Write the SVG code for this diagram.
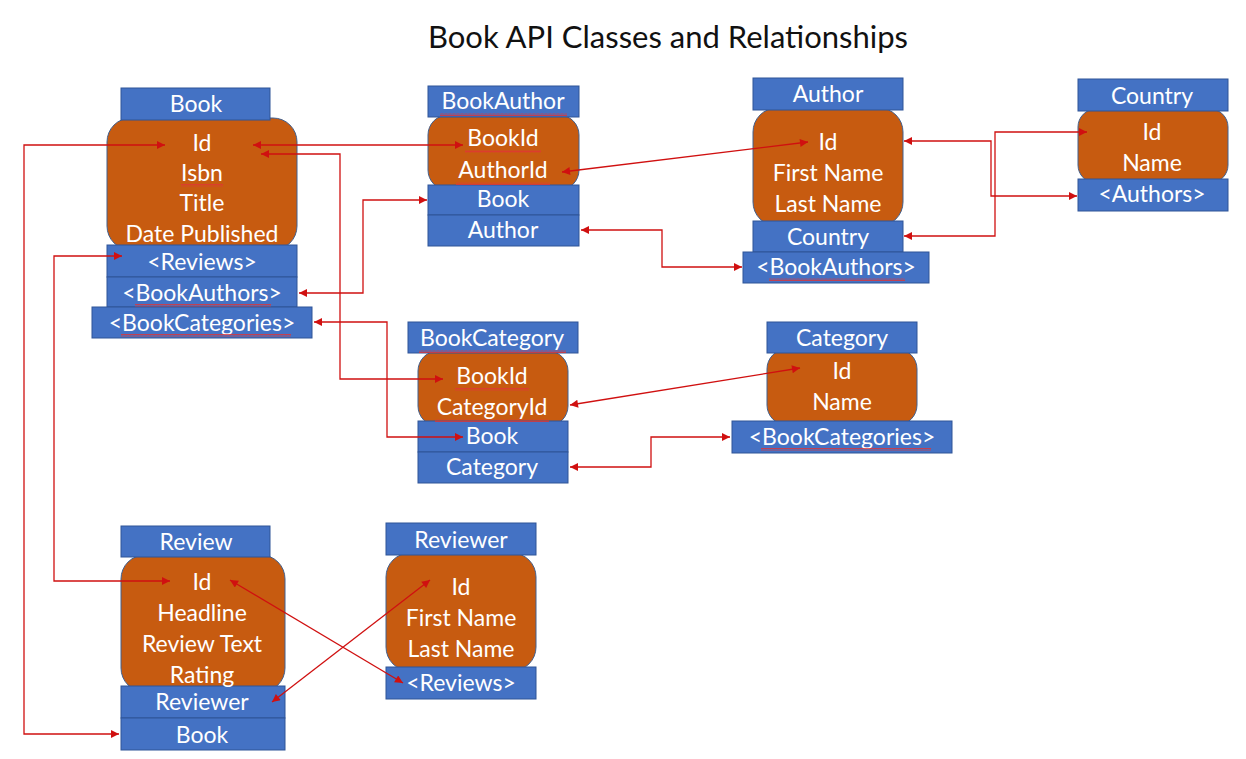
<svg xmlns="http://www.w3.org/2000/svg" width="1246" height="759" viewBox="0 0 1246 759">
<style>
  .hdr { fill: #4472c4; stroke: #2f5597; stroke-width: 1; }
  .row { fill: #4472c4; stroke: #2f5597; stroke-width: 1; }
  .body { fill: #c75b10; stroke: #41608f; stroke-width: 1; }
  text { font-family: Lato, "Liberation Sans", sans-serif; font-size: 23px; fill: #ffffff; text-anchor: middle; }
  .title { font-size: 31px; fill: #111111; }
  .conn { fill: none; stroke: #d01010; stroke-width: 1.3; marker-start: url(#arr); marker-end: url(#arr); }
  .sq { fill: url(#squig); }
</style>
<defs>
  <marker id="arr" viewBox="0 0 10 10" refX="10" refY="5" markerWidth="9" markerHeight="8" markerUnits="userSpaceOnUse" orient="auto-start-reverse">
    <path d="M0,0 L10,5 L0,10 z" fill="#d01010"/>
  </marker>
  <pattern id="squig" width="4" height="3" patternUnits="userSpaceOnUse">
    <path d="M0,2.5 L1,0.5 L2,2.5 L3,0.5 L4,2.5" fill="none" stroke="#e03535" stroke-width="0.8"/>
  </pattern>
</defs>
<rect width="1246" height="759" fill="#ffffff"/>
<text class="title" x="668" y="48">Book API Classes and Relationships</text>

<g id="Book">
  <rect class="body" x="107" y="118" width="190" height="132" rx="24"/>
  <rect class="hdr" x="121" y="88" width="149" height="32"/>
  <rect class="row" x="107" y="245" width="190" height="32"/>
  <rect class="row" x="107" y="277" width="190" height="30"/>
  <rect class="row" x="92" y="307" width="220" height="31"/>
  <text x="196" y="112">Book</text>
  <text x="202" y="151">Id</text>
  <text x="202" y="181">Isbn</text>
  <text x="202" y="211">Title</text>
  <text x="202" y="242">Date Published</text>
  <text x="202" y="270">&lt;Reviews&gt;</text>
  <text x="202" y="301">&lt;BookAuthors&gt;</text>
  <text x="202" y="331">&lt;BookCategories&gt;</text>
  <rect class="sq" x="181" y="184" width="42" height="3"/>
  <rect class="sq" x="135" y="304" width="136" height="3"/>
  <rect class="sq" x="121" y="334" width="170" height="3"/>
</g>

<g id="BookAuthor">
  <rect class="body" x="428" y="115" width="151" height="75" rx="20"/>
  <rect class="hdr" x="428" y="86" width="151" height="31"/>
  <rect class="row" x="428" y="185" width="151" height="30"/>
  <rect class="row" x="428" y="215" width="151" height="31"/>
  <text x="503" y="109">BookAuthor</text>
  <text x="503" y="146">BookId</text>
  <text x="503" y="178">AuthorId</text>
  <text x="503" y="207">Book</text>
  <text x="503" y="238">Author</text>
  <rect class="sq" x="440" y="113" width="127" height="3"/>
  <rect class="sq" x="465" y="150" width="76" height="3"/>
  <rect class="sq" x="456" y="182" width="94" height="3"/>
</g>

<g id="Author">
  <rect class="body" x="753" y="108" width="150" height="118" rx="24"/>
  <rect class="hdr" x="753" y="78" width="150" height="32"/>
  <rect class="row" x="753" y="221" width="150" height="31"/>
  <rect class="row" x="743" y="252" width="186" height="31"/>
  <text x="828" y="102">Author</text>
  <text x="828" y="150">Id</text>
  <text x="828" y="181">First Name</text>
  <text x="828" y="212">Last Name</text>
  <text x="828" y="245">Country</text>
  <text x="836" y="275">&lt;BookAuthors&gt;</text>
  <rect class="sq" x="769" y="278" width="136" height="3"/>
</g>

<g id="Country">
  <rect class="body" x="1078" y="109" width="150" height="74" rx="18"/>
  <rect class="hdr" x="1078" y="79" width="150" height="32"/>
  <rect class="row" x="1078" y="179" width="150" height="32"/>
  <text x="1152" y="104">Country</text>
  <text x="1152" y="140">Id</text>
  <text x="1152" y="171">Name</text>
  <text x="1152" y="202">&lt;Authors&gt;</text>
</g>

<g id="BookCategory">
  <rect class="body" x="418" y="351" width="150" height="75" rx="20"/>
  <rect class="hdr" x="408" y="322" width="170" height="31"/>
  <rect class="row" x="418" y="421" width="150" height="31"/>
  <rect class="row" x="418" y="452" width="150" height="31"/>
  <text x="492" y="346">BookCategory</text>
  <text x="492" y="384">BookId</text>
  <text x="492" y="415">CategoryId</text>
  <text x="492" y="444">Book</text>
  <text x="492" y="475">Category</text>
  <rect class="sq" x="419" y="350" width="147" height="3"/>
  <rect class="sq" x="455" y="388" width="74" height="3"/>
  <rect class="sq" x="435" y="419" width="114" height="3"/>
</g>

<g id="Category">
  <rect class="body" x="767" y="349" width="150" height="76" rx="20"/>
  <rect class="hdr" x="767" y="322" width="150" height="31"/>
  <rect class="row" x="732" y="421" width="220" height="32"/>
  <text x="842" y="346">Category</text>
  <text x="842" y="379">Id</text>
  <text x="842" y="410">Name</text>
  <text x="842" y="445">&lt;BookCategories&gt;</text>
  <rect class="sq" x="761" y="448" width="170" height="3"/>
</g>

<g id="Review">
  <rect class="body" x="121" y="555" width="164" height="137" rx="24"/>
  <rect class="hdr" x="121" y="526" width="149" height="31"/>
  <rect class="row" x="121" y="686" width="164" height="32"/>
  <rect class="row" x="121" y="718" width="164" height="32"/>
  <text x="196" y="550">Review</text>
  <text x="202" y="590">Id</text>
  <text x="202" y="621">Headline</text>
  <text x="202" y="652">Review Text</text>
  <text x="202" y="683">Rating</text>
  <text x="202" y="710">Reviewer</text>
  <text x="202" y="743">Book</text>
</g>

<g id="Reviewer">
  <rect class="body" x="386" y="553" width="150" height="118" rx="24"/>
  <rect class="hdr" x="386" y="523" width="150" height="32"/>
  <rect class="row" x="386" y="667" width="150" height="32"/>
  <text x="461" y="548">Reviewer</text>
  <text x="461" y="595">Id</text>
  <text x="461" y="626">First Name</text>
  <text x="461" y="657">Last Name</text>
  <text x="461" y="691">&lt;Reviews&gt;</text>
</g>

<g id="connectors">
  <path class="conn" d="M253,145 L463,145"/>
  <path class="conn" d="M261,154 L340,154 L340,379 L443,379"/>
  <path class="conn" d="M299,293 L363,293 L363,200 L427,200"/>
  <path class="conn" d="M314,322 L387,322 L387,437 L463,437"/>
  <path class="conn" d="M122,256 L54,256 L54,581 L170,581"/>
  <path class="conn" d="M165,145 L24,145 L24,734 L119,734"/>
  <path class="conn" d="M562,172 L808,142"/>
  <path class="conn" d="M581,230 L662,230 L662,267 L742,267"/>
  <path class="conn" d="M904,141 L991,141 L991,196 L1077,196"/>
  <path class="conn" d="M904,236 L995,236 L995,132 L1087,132"/>
  <path class="conn" d="M570,405 L800,368"/>
  <path class="conn" d="M570,467 L651,467 L651,437 L730,437"/>
  <path class="conn" d="M230,580 L403,683"/>
  <path class="conn" d="M272,702 L430,580"/>
</g>
</svg>
